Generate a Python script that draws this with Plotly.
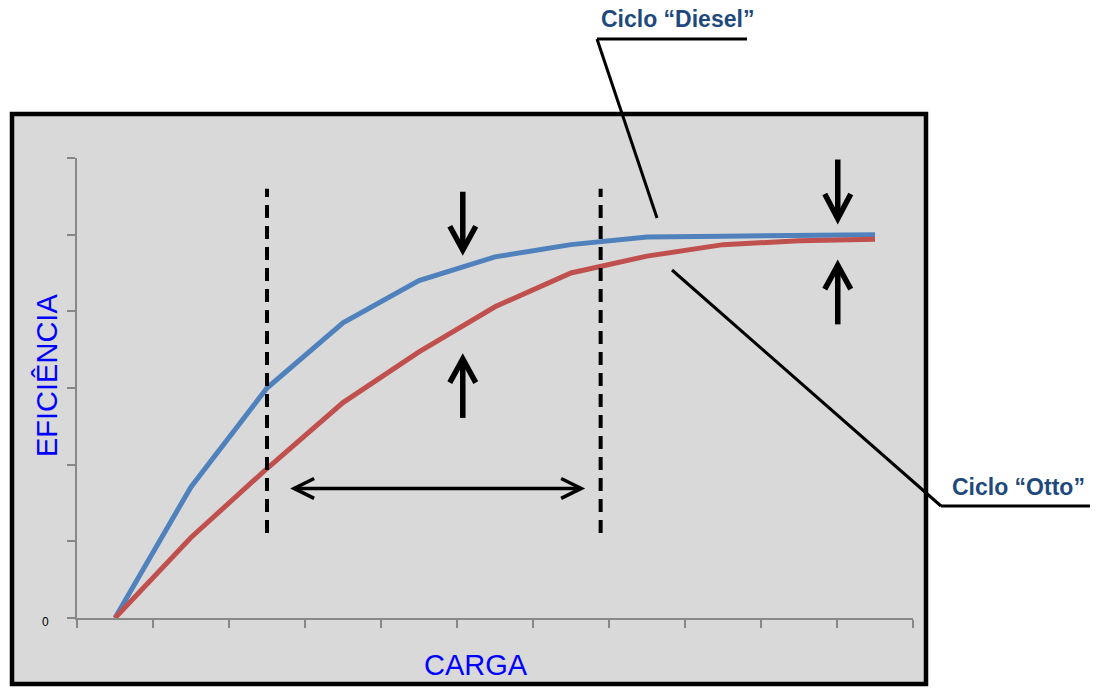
import plotly.graph_objects as go

# ---- data ----
carga = [0, 1, 2, 3, 4, 5, 6, 7, 8, 9, 10]
diesel = [0, 1.71, 3.00, 3.85, 4.40, 4.71, 4.87, 4.97, 4.98, 4.99, 5.00]
otto = [0, 1.05, 1.95, 2.81, 3.47, 4.06, 4.50, 4.72, 4.87, 4.92, 4.94]
y_ticks = [0, 1, 2, 3, 4, 5, 6]
x_ticks = [-0.5, 0.5, 1.5, 2.5, 3.5, 4.5, 5.5, 6.5, 7.5, 8.5, 9.5, 10.5]
x_title = "CARGA"
y_title = "EFICIÊNCIA"
label_diesel = "Ciclo “Diesel”"
label_otto = "Ciclo “Otto”"

W, H = 1096, 691
L, R, T, B = 77, 183, 158, 73
PW, PH = W - L - R, H - T - B


def px(x):
    return (x - L) / PW


def py(y):
    return (H - B - y) / PH


fig = go.Figure()
fig.add_trace(go.Scatter(x=carga, y=diesel, mode="lines",
                         line=dict(color="#4F81BD", width=5), name=label_diesel))
fig.add_trace(go.Scatter(x=carga, y=otto, mode="lines",
                         line=dict(color="#C0504D", width=5), name=label_otto))

shapes = []
# outer grey box
shapes.append(dict(type="rect", xref="paper", yref="paper",
                   x0=px(12), x1=px(926), y0=py(684), y1=py(114),
                   line=dict(color="black", width=4.5), fillcolor="#D9D9D9", layer="below"))
# dashed vertical lines
for xv in (2.0, 6.39):
    shapes.append(dict(type="line", xref="x", yref="y", x0=xv, x1=xv, y0=1.11, y1=5.60,
                       line=dict(color="black", width=4, dash="13px,8px")))


def varrow(x, y_tail, y_tip, y_wing, dx=0.171, w=5.5):
    return [
        dict(type="path", xref="x", yref="y", path=f"M {x},{y_tail} L {x},{y_tip}",
             line=dict(color="black", width=w)),
        dict(type="path", xref="x", yref="y",
             path=f"M {x-dx},{y_wing} L {x},{y_tip} L {x+dx},{y_wing}",
             line=dict(color="black", width=w)),
    ]


shapes += varrow(4.576, 5.56, 4.80, 5.11)
shapes += varrow(4.576, 2.61, 3.38, 3.07)
shapes += varrow(9.51, 5.98, 5.21, 5.53)
shapes += varrow(9.51, 3.83, 4.60, 4.29)

# horizontal double arrow
ya, dy = 1.69, 0.13
shapes.append(dict(type="path", xref="x", yref="y", path=f"M 2.357,{ya} L 6.135,{ya}",
                   line=dict(color="black", width=3.5)))
shapes.append(dict(type="path", xref="x", yref="y",
                   path=f"M 2.62,{ya+dy} L 2.357,{ya} L 2.62,{ya-dy}",
                   line=dict(color="black", width=3.5)))
shapes.append(dict(type="path", xref="x", yref="y",
                   path=f"M 5.87,{ya+dy} L 6.135,{ya} L 5.87,{ya-dy}",
                   line=dict(color="black", width=3.5)))

# callout leader lines
for (x0, y0, x1, y1) in [(597, 39, 747, 39), (597, 39, 657, 218),
                         (672, 270, 941, 506), (941, 506, 1090, 506)]:
    shapes.append(dict(type="line", xref="paper", yref="paper",
                       x0=px(x0), y0=py(y0), x1=px(x1), y1=py(y1),
                       line=dict(color="black", width=3)))

annotations = [
    dict(text=f"<b>{label_diesel}</b>", xref="paper", yref="paper", x=px(677), y=py(19),
         showarrow=False, xanchor="center", yanchor="middle",
         font=dict(family="Liberation Sans, Arial", size=23, color="#1F497D")),
    dict(text=f"<b>{label_otto}</b>", xref="paper", yref="paper", x=px(1018), y=py(487),
         showarrow=False, xanchor="center", yanchor="middle",
         font=dict(family="Liberation Sans, Arial", size=23, color="#1F497D")),
    dict(text=x_title, xref="paper", yref="paper", x=px(476), y=py(665),
         showarrow=False, xanchor="center", yanchor="middle",
         font=dict(family="Liberation Sans, Arial", size=29, color="#0000FF")),
    dict(text=y_title, xref="paper", yref="paper", x=px(47), y=py(376), textangle=-90,
         showarrow=False, xanchor="center", yanchor="middle",
         font=dict(family="Liberation Sans, Arial", size=29, color="#0000FF")),
    dict(text="0", xref="paper", yref="paper", x=px(45), y=py(622),
         showarrow=False, xanchor="center", yanchor="middle",
         font=dict(family="Liberation Sans, Arial", size=12, color="black")),
]

axis_style = dict(showgrid=False, zeroline=False, showline=True, linecolor="#888888",
                  linewidth=1.5, ticks="outside", ticklen=8, tickcolor="#888888",
                  tickwidth=1.5, showticklabels=False)

fig.update_layout(
    width=W, height=H, autosize=False,
    margin=dict(l=L, r=R, t=T, b=B, pad=0),
    paper_bgcolor="white", plot_bgcolor="rgba(0,0,0,0)",
    showlegend=False,
    shapes=shapes, annotations=annotations,
    xaxis=dict(range=[-0.5, 10.5], tickmode="array", tickvals=x_ticks, **axis_style),
    yaxis=dict(range=[0, 6], tickmode="array", tickvals=y_ticks, **axis_style),
)

fig.write_html("out.html", config={"displayModeBar": False},
               post_script="document.body.style.margin='0px';")
